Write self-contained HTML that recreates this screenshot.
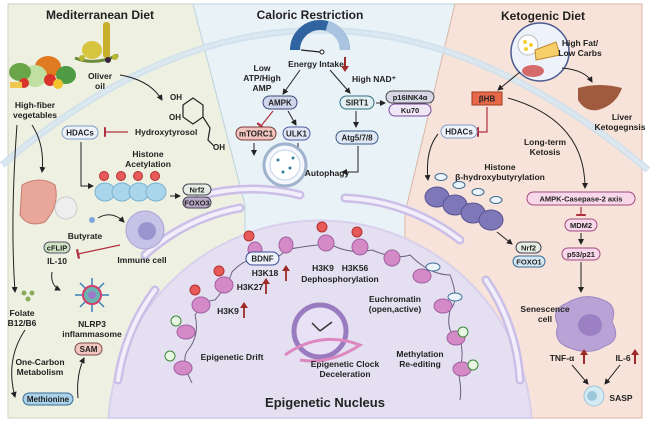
<!DOCTYPE html>
<html><head><meta charset="utf-8"><style>
html,body{margin:0;padding:0;background:#fff;width:650px;height:426px;overflow:hidden;}
svg{display:block;font-family:"Liberation Sans",sans-serif;}
text{font-weight:bold;fill:#222;}
</style></head><body>
<svg width="650" height="426" viewBox="0 0 650 426" xmlns="http://www.w3.org/2000/svg">
<defs>
<marker id="ar" markerWidth="6" markerHeight="6" refX="5" refY="3" orient="auto"><path d="M0,0 L6,3 L0,6 Z" fill="#222"/></marker>
<marker id="inh" markerWidth="2" markerHeight="8" refX="1" refY="4" orient="auto"><rect x="0" y="0" width="2" height="8" fill="#b03040"/></marker>
</defs>
<path d="M8,4 L193,4 L245,205 L245,418 L8,418 Z" fill="#eef0e2" stroke="#cfd3bf"/>
<path d="M193,4 L455,4 L405,213 L405,418 L245,418 L245,205 Z" fill="#e9f3f7" stroke="#bcd4e0"/>
<path d="M455,4 L642,4 L642,418 L405,418 L405,213 Z" fill="#f7e3d9" stroke="#dcb9a6"/>
<path d="M2,165 Q320,-107 648,170" fill="none" stroke="#cfe0ec" stroke-width="7" opacity="0.9"/>
<path d="M2,165 Q320,-107 648,170" fill="none" stroke="#e8f1f7" stroke-width="3" stroke-dasharray="1 1.5"/>
<path d="M108.5,418 A212,212 0 0 1 531.5,418 Z" fill="#e4e0f1" stroke="#d8d0ec" stroke-width="2"/>
<path d="M145,255 A190,190 0 0 1 240,208" fill="none" stroke="#cbbfe8" stroke-width="9" stroke-linecap="round"/>
<path d="M145,255 A190,190 0 0 1 240,208" fill="none" stroke="#f2effa" stroke-width="4" stroke-linecap="round"/>
<path d="M200,196 A200,200 0 0 1 300,195" fill="none" stroke="#cbbfe8" stroke-width="9" stroke-linecap="round"/>
<path d="M200,196 A200,200 0 0 1 300,195" fill="none" stroke="#f2effa" stroke-width="4" stroke-linecap="round"/>
<path d="M345,198 A200,200 0 0 1 460,240" fill="none" stroke="#cbbfe8" stroke-width="9" stroke-linecap="round"/>
<path d="M345,198 A200,200 0 0 1 460,240" fill="none" stroke="#f2effa" stroke-width="4" stroke-linecap="round"/>
<path d="M486,280 A200,200 0 0 1 520,380" fill="none" stroke="#cbbfe8" stroke-width="9" stroke-linecap="round"/>
<path d="M486,280 A200,200 0 0 1 520,380" fill="none" stroke="#f2effa" stroke-width="4" stroke-linecap="round"/>
<path d="M155,290 A200,200 0 0 0 118,380" fill="none" stroke="#cbbfe8" stroke-width="9" stroke-linecap="round"/>
<path d="M155,290 A200,200 0 0 0 118,380" fill="none" stroke="#f2effa" stroke-width="4" stroke-linecap="round"/>

<text x="100" y="19" font-size="12" text-anchor="middle">Mediterranean Diet</text>
<text x="310" y="19" font-size="12" text-anchor="middle">Caloric Restriction</text>
<text x="543" y="20" font-size="12" text-anchor="middle">Ketogenic Diet</text>

<g>
<ellipse cx="48" cy="67" rx="13" ry="11" fill="#e07a20"/>
<ellipse cx="35" cy="76" rx="12" ry="11" fill="#bfe0a0"/>
<ellipse cx="20" cy="72" rx="11" ry="9" fill="#6aa54a"/>
<ellipse cx="66" cy="75" rx="10" ry="9" fill="#4e9a45"/>
<circle cx="50" cy="80" r="6" fill="#d9342b"/>
<circle cx="24" cy="83" r="5" fill="#d9342b"/>
<circle cx="58" cy="84" r="5" fill="#f2c230"/>
<rect x="10" y="82" width="12" height="6" fill="#f0c850"/>
<rect x="103" y="22" width="7" height="36" rx="3" fill="#c9b02a"/>
<ellipse cx="92" cy="50" rx="10" ry="9" fill="#d7c540"/>
<path d="M75,58 Q95,66 118,55" stroke="#6d8a3a" stroke-width="3" fill="none"/>
<circle cx="82" cy="58" r="3" fill="#b6b830"/><circle cx="108" cy="60" r="3" fill="#3a2340"/><circle cx="115" cy="57" r="3" fill="#b6b830"/>
</g>
<text x="100" y="79" font-size="8.5" text-anchor="middle">Oliver</text>
<text x="100" y="89" font-size="8.5" text-anchor="middle">oil</text>
<text x="35" y="108" font-size="8.5" text-anchor="middle">High-fiber</text>
<text x="35" y="118" font-size="8.5" text-anchor="middle">vegetables</text>
<path d="M120,75 Q150,80 162,100" fill="none" stroke="#222" stroke-width="1" marker-end="url(#ar)"/>
<path d="M183,105 L193,98 L203,105 L203,117 L193,124 L183,117 Z" fill="none" stroke="#222" stroke-width="1.2"/>
<path d="M203,117 L210,128 L208,140 L214,146" fill="none" stroke="#222" stroke-width="1.2"/>
<text x="170" y="100" font-size="8">OH</text>
<text x="169" y="120" font-size="8">OH</text>
<text x="213" y="150" font-size="8">OH</text>
<rect x="62" y="126" width="36" height="13" rx="6.5" fill="#eef3fb" stroke="#7f9cc8"/>
<text x="80" y="135.5" font-size="8" text-anchor="middle">HDACs</text>
<line x1="128" y1="132" x2="105" y2="132" stroke="#b03040" stroke-width="1.2" marker-end="url(#inh)"/>
<text x="135" y="135" font-size="8.5">Hydroxytyrosol</text>
<text x="148" y="157" font-size="8.5" text-anchor="middle">Histone</text>
<text x="148" y="167" font-size="8.5" text-anchor="middle">Acetylation</text>
<path d="M81,142 L81,186 L93,186" fill="none" stroke="#222" stroke-width="1" marker-end="url(#ar)"/>
<g fill="#a9d6ea" stroke="#78b2cf">
<ellipse cx="105" cy="192" rx="10" ry="9"/><ellipse cx="122" cy="192" rx="10" ry="9"/><ellipse cx="139" cy="192" rx="10" ry="9"/><ellipse cx="156" cy="192" rx="10" ry="9"/>
</g>
<g fill="#e85a5a" stroke="#b03030"><circle cx="104" cy="176" r="4.5"/><circle cx="121" cy="176" r="4.5"/><circle cx="138" cy="176" r="4.5"/><circle cx="155" cy="176" r="4.5"/></g>
<line x1="170" y1="196" x2="180" y2="196" stroke="#222" marker-end="url(#ar)"/>
<rect x="183" y="184" width="28" height="11" rx="5.5" fill="#e6eee4" stroke="#445"/>
<text x="197" y="192.5" font-size="7.5" text-anchor="middle">Nrf2</text>
<rect x="183" y="197" width="28" height="11" rx="5.5" fill="#b7a8c8" stroke="#445"/>
<text x="197" y="205.5" font-size="7.5" text-anchor="middle">FOXO3</text>
<path d="M32,125 Q45,145 42,172" fill="none" stroke="#222" marker-end="url(#ar)"/>
<path d="M17,125 Q10,220 15,292" fill="none" stroke="#222" marker-end="url(#ar)"/>
<path d="M22,185 Q40,175 55,185 Q60,205 45,222 Q28,228 20,215 Z" fill="#e9a79a" stroke="#c57e70"/>
<circle cx="66" cy="208" r="11" fill="#eee" stroke="#ccc"/>
<circle cx="92" cy="220" r="3" fill="#7fa6dc"/>
<text x="85" y="239" font-size="8.5" text-anchor="middle">Butyrate</text>
<path d="M98,218 Q112,210 124,222" fill="none" stroke="#222" marker-end="url(#ar)"/>
<circle cx="145" cy="230" r="19" fill="#c7c3e6" stroke="#a9a3d6"/>
<circle cx="147" cy="231" r="9" fill="#9b94cf"/>
<text x="142" y="263" font-size="8.5" text-anchor="middle">Immune cell</text>
<rect x="44" y="242" width="26" height="11" rx="5.5" fill="#cfe3c3" stroke="#556"/>
<text x="57" y="250.5" font-size="7.5" text-anchor="middle">cFLIP</text>
<text x="57" y="264" font-size="8.5" text-anchor="middle">IL-10</text>
<line x1="120" y1="245" x2="78" y2="254" stroke="#b03040" stroke-width="1.2" marker-end="url(#inh)"/>
<path d="M52,272 Q50,285 60,290" fill="none" stroke="#222" marker-end="url(#ar)"/>
<g stroke="#3a7fb8" stroke-width="1.5">
<line x1="92" y1="278" x2="92" y2="312"/><line x1="75" y1="295" x2="109" y2="295"/><line x1="80" y1="283" x2="104" y2="307"/><line x1="104" y1="283" x2="80" y2="307"/>
</g>
<circle cx="92" cy="295" r="9" fill="#6ab3b0" stroke="#d0406a" stroke-width="2"/>
<circle cx="92" cy="295" r="4" fill="#9c7bc8"/>
<text x="92" y="327" font-size="8.5" text-anchor="middle">NLRP3</text>
<text x="92" y="337" font-size="8.5" text-anchor="middle">inflammasome</text>
<g fill="#8aaa5a"><circle cx="24" cy="293" r="2.5"/><circle cx="32" cy="293" r="2.5"/><circle cx="28" cy="299" r="2.5"/></g>
<text x="22" y="316" font-size="8.5" text-anchor="middle">Folate</text>
<text x="22" y="326" font-size="8.5" text-anchor="middle">B12/B6</text>
<path d="M25,330 Q5,360 15,397" fill="none" stroke="#222" marker-end="url(#ar)"/>
<text x="40" y="365" font-size="8.5" text-anchor="middle">One-Carbon</text>
<text x="40" y="375" font-size="8.5" text-anchor="middle">Metabolism</text>
<rect x="23" y="393" width="50" height="12" rx="6" fill="#a9d2ea" stroke="#3a6d92"/>
<text x="48" y="402" font-size="8" text-anchor="middle">Methionine</text>
<path d="M78,398 Q76,375 84,358" fill="none" stroke="#222" marker-end="url(#ar)"/>
<rect x="75" y="343" width="27" height="12" rx="6" fill="#f2c6c0" stroke="#7a4a4a"/>
<text x="88.5" y="352" font-size="8" text-anchor="middle">SAM</text>

<path d="M295,50 A25,25 0 0 1 345,50" fill="none" stroke="#2f64a0" stroke-width="10"/>
<path d="M327,26 A25,25 0 0 1 345,50" fill="none" stroke="#a9c3e0" stroke-width="10"/>
<line x1="301" y1="50" x2="320" y2="52" stroke="#222" stroke-width="1.2"/><circle cx="322" cy="52" r="2" fill="#fff" stroke="#222"/>
<text x="316" y="67" font-size="8.5" text-anchor="middle">Energy Intake</text>
<line x1="345" y1="57" x2="345" y2="68" stroke="#9e2a2a" stroke-width="2"/><path d="M341,66 L349,66 L345,72 Z" fill="#9e2a2a"/>
<text x="262" y="71" font-size="8.5" text-anchor="middle">Low</text>
<text x="262" y="81" font-size="8.5" text-anchor="middle">ATP/High</text>
<text x="262" y="91" font-size="8.5" text-anchor="middle">AMP</text>
<line x1="300" y1="70" x2="283" y2="94" stroke="#222" marker-end="url(#ar)"/>
<rect x="263" y="96" width="34" height="13" rx="6.5" fill="#cfd6ec" stroke="#3b4a7a"/>
<text x="280" y="105.5" font-size="8" text-anchor="middle">AMPK</text>
<line x1="273" y1="111" x2="261" y2="126" stroke="#b03040" stroke-width="1.2" marker-end="url(#inh)"/>
<line x1="288" y1="111" x2="296" y2="125" stroke="#222" marker-end="url(#ar)"/>
<rect x="236" y="127" width="40" height="13" rx="6.5" fill="#f1c4bd" stroke="#7a3a3a"/>
<text x="256" y="136.5" font-size="8" text-anchor="middle">mTORC1</text>
<rect x="283" y="127" width="27" height="13" rx="6.5" fill="#e1e6f6" stroke="#4a5aa0"/>
<text x="296.5" y="136.5" font-size="8" text-anchor="middle">ULK1</text>
<line x1="254" y1="143" x2="254" y2="155" stroke="#222" marker-end="url(#ar)"/>
<line x1="298" y1="143" x2="298" y2="155" stroke="#222" marker-end="url(#ar)"/>
<circle cx="285" cy="165" r="21" fill="#f4f7fb" stroke="#9fb3cc" stroke-width="3"/>
<circle cx="285" cy="165" r="15" fill="#fff" stroke="#c5d3e3"/>
<g fill="#2d7f9a"><circle cx="278" cy="160" r="1.5"/><circle cx="290" cy="168" r="1.5"/><circle cx="283" cy="172" r="1.5"/><circle cx="293" cy="158" r="1.5"/></g>
<text x="327" y="176" font-size="8.5" text-anchor="middle">Autophagy</text>
<text x="352" y="82" font-size="8.5">High NAD⁺</text>
<line x1="330" y1="70" x2="350" y2="93" stroke="#222" marker-end="url(#ar)"/>
<rect x="340" y="96" width="34" height="13" rx="6.5" fill="#e3f0f3" stroke="#2e6f80"/>
<text x="357" y="105.5" font-size="8" text-anchor="middle">SIRT1</text>
<line x1="376" y1="103" x2="385" y2="103" stroke="#222" marker-end="url(#ar)"/>
<rect x="386" y="91" width="48" height="12" rx="6" fill="#d6d6e4" stroke="#444"/>
<text x="410" y="100" font-size="7.5" text-anchor="middle">p16INK4α</text>
<rect x="389" y="104" width="42" height="12" rx="6" fill="#efe7f6" stroke="#7a4aa0"/>
<text x="410" y="113" font-size="7.5" text-anchor="middle">Ku70</text>
<line x1="356" y1="111" x2="356" y2="127" stroke="#222" marker-end="url(#ar)"/>
<rect x="336" y="131" width="42" height="13" rx="6.5" fill="#dfe8f4" stroke="#3b5b8a"/>
<text x="357" y="140.5" font-size="8" text-anchor="middle">Atg5/7/8</text>
<path d="M358,146 L358,172 L342,172" fill="none" stroke="#222" marker-end="url(#ar)"/>

<circle cx="540" cy="52" r="29" fill="#eef2fa" stroke="#4a5a90" stroke-width="1.5"/>
<circle cx="528" cy="45" r="10" fill="#fff" stroke="#bbb"/>
<g fill="#f2d030"><circle cx="525" cy="42" r="2"/><circle cx="531" cy="45" r="2"/><circle cx="526" cy="49" r="2"/></g>
<path d="M535,50 L556,42 L560,55 L536,60 Z" fill="#f6cf6a" stroke="#c08a30"/>
<ellipse cx="533" cy="71" rx="11" ry="6" fill="#d46a6a"/>
<text x="580" y="46" font-size="8.5" text-anchor="middle">High Fat/</text>
<text x="580" y="56" font-size="8.5" text-anchor="middle">Low Carbs</text>
<path d="M562,68 Q585,70 592,82" fill="none" stroke="#222" marker-end="url(#ar)"/>
<path d="M578,88 Q600,82 622,88 Q616,105 598,110 Q585,112 578,100 Z" fill="#a05a3e"/>
<text x="622" y="120" font-size="8.5" text-anchor="middle">Liver</text>
<text x="620" y="130" font-size="8.5" text-anchor="middle">Ketogegnsis</text>
<line x1="520" y1="72" x2="498" y2="90" stroke="#222" marker-end="url(#ar)"/>
<rect x="472" y="92" width="30" height="13" fill="#e8694a" stroke="#a03a20"/>
<text x="487" y="101.5" font-size="8" text-anchor="middle" fill="#fff">βHB</text>
<path d="M487,107 L487,132 L478,132" fill="none" stroke="#b03040" stroke-width="1.2" marker-end="url(#inh)"/>
<rect x="441" y="125" width="36" height="13" rx="6.5" fill="#eef3fb" stroke="#7f9cc8"/>
<text x="459" y="134.5" font-size="8" text-anchor="middle">HDACs</text>
<path d="M508,98 Q585,120 585,188" fill="none" stroke="#222" marker-end="url(#ar)"/>
<text x="545" y="145" font-size="8.5" text-anchor="middle">Long-term</text>
<text x="545" y="155" font-size="8.5" text-anchor="middle">Ketosis</text>
<path d="M438,134 Q425,150 428,180" fill="none" stroke="#222" marker-end="url(#ar)"/>
<text x="500" y="170" font-size="8.5" text-anchor="middle">Histone</text>
<text x="500" y="180" font-size="8.5" text-anchor="middle">β-hydroxybutyrylation</text>
<g fill="#7e78b8" stroke="#5a5496">
<ellipse cx="437" cy="197" rx="12" ry="10"/><ellipse cx="455" cy="205" rx="12" ry="10"/><ellipse cx="473" cy="213" rx="12" ry="10"/><ellipse cx="491" cy="220" rx="12" ry="10"/>
</g>
<g fill="#eef4fb" stroke="#3a6d92"><ellipse cx="441" cy="177" rx="6" ry="3.5"/><ellipse cx="459" cy="185" rx="6" ry="3.5"/><ellipse cx="478" cy="192" rx="6" ry="3.5"/><ellipse cx="496" cy="200" rx="6" ry="3.5"/></g>
<line x1="497" y1="232" x2="512" y2="244" stroke="#222" marker-end="url(#ar)"/>
<rect x="516" y="242" width="25" height="11" rx="5.5" fill="#e6eee4" stroke="#445"/>
<text x="528.5" y="250.5" font-size="7.5" text-anchor="middle">Nrf2</text>
<rect x="513" y="256" width="32" height="11" rx="5.5" fill="#d6e8f4" stroke="#3a6d92"/>
<text x="529" y="264.5" font-size="7.5" text-anchor="middle">FOXO1</text>
<rect x="527" y="192" width="108" height="13" rx="6.5" fill="#f9d8ea" stroke="#a04a80"/>
<text x="581" y="201.5" font-size="7.5" text-anchor="middle">AMPK-Casepase-2 axis</text>
<line x1="581" y1="207" x2="581" y2="215" stroke="#b03040" stroke-width="1.2" marker-end="url(#inh)"/>
<rect x="565" y="219" width="32" height="12" rx="6" fill="#f9d8ea" stroke="#a04a80"/>
<text x="581" y="228" font-size="7.5" text-anchor="middle">MDM2</text>
<line x1="581" y1="233" x2="581" y2="244" stroke="#222" marker-end="url(#ar)"/>
<rect x="562" y="248" width="38" height="12" rx="6" fill="#f9d8ea" stroke="#a04a80"/>
<text x="581" y="257" font-size="7.5" text-anchor="middle">p53/p21</text>
<line x1="581" y1="262" x2="581" y2="292" stroke="#222" marker-end="url(#ar)"/>
<path d="M567,303 Q585,292 603,300 Q618,305 612,322 Q622,340 605,346 Q590,356 570,348 Q552,342 558,325 Q550,310 567,303 Z" fill="#b9a3d6" stroke="#9c86c2"/>
<ellipse cx="590" cy="325" rx="12" ry="11" fill="#9b80c3"/>
<text x="545" y="312" font-size="8.5" text-anchor="middle">Senescence</text>
<text x="545" y="322" font-size="8.5" text-anchor="middle">cell</text>
<text x="562" y="361" font-size="8.5" text-anchor="middle">TNF-α</text>
<line x1="584" y1="364" x2="584" y2="354" stroke="#9e2a2a" stroke-width="2"/><path d="M580,355 L588,355 L584,349 Z" fill="#9e2a2a"/>
<text x="623" y="361" font-size="8.5" text-anchor="middle">IL-6</text>
<line x1="635" y1="364" x2="635" y2="354" stroke="#9e2a2a" stroke-width="2"/><path d="M631,355 L639,355 L635,349 Z" fill="#9e2a2a"/>
<line x1="572" y1="365" x2="588" y2="384" stroke="#222" marker-end="url(#ar)"/>
<line x1="620" y1="365" x2="605" y2="384" stroke="#222" marker-end="url(#ar)"/>
<circle cx="594" cy="396" r="10" fill="#d4eaf2" stroke="#9cc6da"/>
<circle cx="592" cy="396" r="5" fill="#9cc6da"/>
<text x="621" y="401" font-size="8.5" text-anchor="middle">SASP</text>

<path d="M192,383 Q180,360 188,350 Q200,335 195,315 Q205,300 215,300 Q228,285 232,272 Q245,258 260,258 Q280,260 285,250 Q310,245 330,244 Q350,255 372,250 Q395,260 410,255 Q430,275 450,275 Q460,300 450,310 Q445,335 460,338 Q465,360 458,370 Q462,390 460,400" fill="none" stroke="#6a6280" stroke-width="1"/>
<g fill="#d58ac8" stroke="#a15fa0">
<ellipse cx="183" cy="368" rx="9" ry="7"/><ellipse cx="186" cy="332" rx="9" ry="7"/><ellipse cx="201" cy="305" rx="9" ry="8"/><ellipse cx="224" cy="285" rx="9" ry="8"/>
<ellipse cx="255" cy="250" rx="7" ry="8"/><ellipse cx="286" cy="245" rx="7" ry="8"/><ellipse cx="326" cy="243" rx="8" ry="8"/><ellipse cx="360" cy="247" rx="8" ry="8"/><ellipse cx="392" cy="258" rx="8" ry="8"/>
<ellipse cx="422" cy="276" rx="9" ry="7"/><ellipse cx="443" cy="306" rx="9" ry="7"/><ellipse cx="456" cy="338" rx="9" ry="7"/><ellipse cx="462" cy="369" rx="9" ry="7"/>
</g>
<g fill="#e85a5a" stroke="#b03030"><circle cx="195" cy="290" r="5"/><circle cx="219" cy="271" r="5"/><circle cx="249" cy="236" r="5"/><circle cx="322" cy="227" r="5"/><circle cx="357" cy="232" r="5"/></g>
<g fill="#e9f6e3" stroke="#3a8a3a"><circle cx="176" cy="321" r="5"/><circle cx="170" cy="356" r="5"/><circle cx="463" cy="332" r="5"/><circle cx="473" cy="365" r="5"/></g>
<g fill="#eef4fb" stroke="#3a6d92"><ellipse cx="433" cy="267" rx="7" ry="4"/><ellipse cx="455" cy="297" rx="7" ry="4"/></g>
<rect x="246" y="252" width="33" height="13" rx="6.5" fill="#eef3fb" stroke="#3b4a9a"/>
<text x="262.5" y="261.5" font-size="8" text-anchor="middle">BDNF</text>
<text x="265" y="276" font-size="8.5" text-anchor="middle">H3K18</text>
<text x="250" y="290" font-size="8.5" text-anchor="middle">H3K27</text>
<text x="228" y="314" font-size="8.5" text-anchor="middle">H3K9</text>
<g stroke="#9e2a2a" stroke-width="1.8" fill="#9e2a2a">
<line x1="286" y1="281" x2="286" y2="270"/><path d="M282,271 L290,271 L286,265 Z" stroke="none"/>
<line x1="266" y1="294" x2="266" y2="283"/><path d="M262,284 L270,284 L266,278 Z" stroke="none"/>
<line x1="244" y1="318" x2="244" y2="307"/><path d="M240,308 L248,308 L244,302 Z" stroke="none"/>
</g>
<text x="323" y="271" font-size="8.5" text-anchor="middle">H3K9</text>
<text x="355" y="271" font-size="8.5" text-anchor="middle">H3K56</text>
<text x="340" y="282" font-size="8.5" text-anchor="middle">Dephosphorylation</text>
<text x="395" y="302" font-size="8.5" text-anchor="middle">Euchromatin</text>
<text x="395" y="312" font-size="8.5" text-anchor="middle">(open,active)</text>
<text x="232" y="360" font-size="8.5" text-anchor="middle">Epigenetic Drift</text>
<circle cx="320" cy="331" r="26" fill="#e9e2f6" stroke="#9a7bc0" stroke-width="5"/>
<line x1="320" y1="331" x2="312" y2="323" stroke="#333" stroke-width="1.5"/><line x1="320" y1="331" x2="332" y2="322" stroke="#333" stroke-width="1.5"/>
<path d="M285,355 Q320,330 360,345 Q330,365 300,360" fill="none" stroke="#dd88c0" stroke-width="3"/>
<text x="345" y="367" font-size="8.5" text-anchor="middle">Epigenetic Clock</text>
<text x="345" y="377" font-size="8.5" text-anchor="middle">Deceleration</text>
<text x="420" y="357" font-size="8.5" text-anchor="middle">Methylation</text>
<text x="420" y="367" font-size="8.5" text-anchor="middle">Re-editing</text>
<text x="325" y="407" font-size="13" text-anchor="middle">Epigenetic Nucleus</text>
</svg>
</body></html>
